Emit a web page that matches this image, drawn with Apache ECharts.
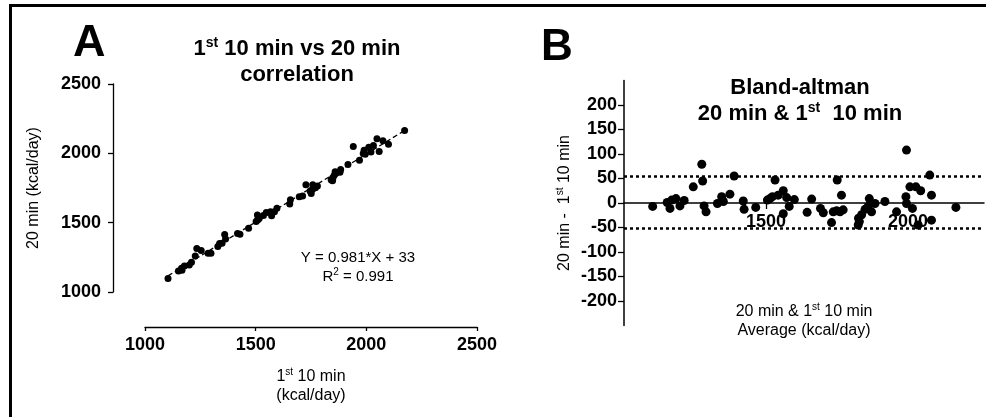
<!DOCTYPE html>
<html><head><meta charset="utf-8">
<script src="https://cdn.jsdelivr.net/npm/echarts@6/dist/echarts.min.js"></script>
<style>html,body{margin:0;padding:0;background:#fff}#c{width:986px;height:417px}</style>
</head><body><div id="c"></div><script>
// Panel A: 1st 10 min vs 20 min (kcal/day)
const ticksA = [1000, 1500, 2000, 2500];
const min10 = [1104,1151,1167,1165,1178,1200,1210,1227,1234,1254,1285,1298,1329,1337,1348,1364,1360,1418,1429,1468,1502,1509,1516,1508,1535,1548,1572,1567,1585,1596,1654,1657,1697,1712,1751,1746,1757,1770,1779,1727,1758,1848,1841,1847,1849,1855,1863,1859,1881,1884,1917,1969,1941,1986,1995,2021,1990,2011,2032,2048,2075,2058,2100,2173];
const min20 = [1097,1152,1156,1171,1188,1194,1214,1260,1314,1300,1279,1280,1328,1350,1352,1382,1415,1422,1416,1459,1508,1519,1530,1556,1551,1573,1550,1578,1578,1604,1635,1665,1686,1692,1711,1728,1741,1752,1765,1774,1774,1810,1810,1802,1825,1842,1856,1868,1863,1883,1920,1951,2049,1999,1994,2010,2023,2044,2057,2105,2091,2013,2065,2164];
const fitSlope = 0.981;
const fitIntercept = 33;
const fitR2 = 0.991;

// Panel B: Bland-Altman
const baAverage = [1101,1152,1162,1168,1183,1197,1212,1244,1274,1277,1282,1289,1329,1344,1350,1373,1388,1420,1423,1464,1505,1514,1523,1532,1543,1561,1561,1573,1582,1600,1645,1661,1692,1702,1731,1737,1749,1761,1772,1751,1766,1829,1826,1825,1837,1849,1860,1864,1872,1884,1919,1960,1995,1993,1995,2016,2007,2028,2045,2077,2083,2036,2083,2169];
const baDifference = [-7,1,-11,6,9,-6,5,33,79,45,-6,-18,-1,13,3,18,55,4,-13,-9,6,9,13,47,16,25,-22,11,-7,7,-19,8,-11,-20,-40,-18,-16,-18,-14,47,16,-38,-31,-45,-24,-13,-7,9,-18,-1,3,-18,108,13,-1,-11,33,33,25,57,16,-45,-35,-9];
const baLimits = [54, -52];
const ticksBY = [-200,-150,-100,-50,0,50,100,150,200];
const ticksBX = [1500, 2000];

const FF = 'Liberation Sans, Arial, Helvetica, sans-serif';
const chart = echarts.init(document.getElementById('c'), null, {renderer: 'canvas'});

const xMinFit = Math.min(...min10), xMaxFit = Math.max(...min10);
const fitLine = [[xMinFit, fitSlope * xMinFit + fitIntercept], [xMaxFit, fitSlope * xMaxFit + fitIntercept]];

const plain = v => String(v);
const tickLabelStyle = {color: '#000', fontFamily: FF, fontWeight: 'bold', fontSize: 18, formatter: plain};
const nameRich = {
  n: {fontFamily: FF, fontSize: 16, color: '#000', lineHeight: 19},
  s: {fontFamily: FF, fontSize: 10, color: '#000', verticalAlign: 'top', lineHeight: 19}
};
const titleRich = {
  b: {fontFamily: FF, fontSize: 22, fontWeight: 'bold', color: '#000', lineHeight: 26},
  s: {fontFamily: FF, fontSize: 14, fontWeight: 'bold', color: '#000', verticalAlign: 'top', lineHeight: 26}
};

// grid B geometry: zero line sits at 203px
const gridBTop = 80.5, gridBHeight = 245;
const zeroOffset = -(gridBHeight / 2);

const option = {
  animation: false,
  backgroundColor: '#fff',
  title: [
    {text: 'A', left: 68, top: 16, textStyle: {fontFamily: FF, fontSize: 45, fontWeight: 'bold', color: '#000'}},
    {text: 'B', left: 536, top: 21, textStyle: {fontFamily: FF, fontSize: 44, fontWeight: 'bold', color: '#000'}},
    {text: '{b|1}{s|st}{b| 10 min vs 20 min}\n{b|correlation}', left: 292, top: 31, textAlign: 'center',
      textStyle: {rich: titleRich, align: 'center'}},
    {text: '{b|Bland-altman}\n{b|20 min & 1}{s|st}{b|  10 min}', left: 795, top: 70, textAlign: 'center',
      textStyle: {rich: titleRich, align: 'center'}},
    {text: 'Y = ' + fitSlope + '*X + ' + fitIntercept + '\n{n|R}{s|2}{n| = ' + fitR2 + '}', left: 353, top: 243, textAlign: 'center',
      textStyle: {fontFamily: FF, fontSize: 15, color: '#000', lineHeight: 19, fontWeight: 'normal', align: 'center',
        rich: {n: {fontFamily: FF, fontSize: 15, color: '#000', lineHeight: 19}, s: {fontFamily: FF, fontSize: 10, color: '#000', verticalAlign: 'top', lineHeight: 19}}}}
  ],
  graphic: [
    {type: 'line', shape: {x1: 9, y1: 5.5, x2: 986, y2: 5.5}, style: {stroke: '#000', lineWidth: 3}},
    {type: 'line', shape: {x1: 10.5, y1: 4, x2: 10.5, y2: 417}, style: {stroke: '#000', lineWidth: 3}}
  ],
  grid: [
    {left: 145, top: 84, width: 332, height: 208, outerBoundsMode: 'none', containLabel: false},
    {left: 624, top: gridBTop, width: 360, height: gridBHeight, outerBoundsMode: 'none', containLabel: false}
  ],
  xAxis: [
    {gridIndex: 0, type: 'value', min: 1000, max: 2500, interval: 500, offset: 35,
      splitLine: {show: false},
      axisLine: {show: true, onZero: false, lineStyle: {color: '#000', width: 1.3}},
      axisTick: {show: true, length: 4, lineStyle: {color: '#000', width: 1.3}},
      axisLabel: Object.assign({margin: 9}, tickLabelStyle),
      name: '{n|1}{s|st}{n| 10 min}\n{n|(kcal/day)}', nameLocation: 'middle', nameGap: 40,
      nameTextStyle: {rich: nameRich, align: 'center'}},
    {gridIndex: 1, type: 'value', min: 1000, max: 2268, offset: zeroOffset,
      splitLine: {show: false},
      axisLine: {show: true, onZero: false, lineStyle: {color: '#000', width: 1.5}},
      axisTick: {show: true, length: 6, customValues: ticksBX, lineStyle: {color: '#000', width: 1.3}},
      axisLabel: Object.assign({margin: 10, customValues: ticksBX}, tickLabelStyle),
      name: '{n|20 min & 1}{s|st}{n| 10 min}\n{n|Average (kcal/day)}', nameLocation: 'middle', nameGap: 99,
      nameTextStyle: {rich: nameRich, align: 'center'}}
  ],
  yAxis: [
    {gridIndex: 0, type: 'value', min: 1000, max: 2500, interval: 500, offset: 32,
      splitLine: {show: false},
      axisLine: {show: true, onZero: false, lineStyle: {color: '#000', width: 1.3}},
      axisTick: {show: true, length: 5, lineStyle: {color: '#000', width: 1.3}},
      axisLabel: Object.assign({margin: 12}, tickLabelStyle),
      name: '{n|20 min (kcal/day)}', nameLocation: 'middle', nameGap: 70,
      nameTextStyle: {rich: nameRich}},
    {gridIndex: 1, type: 'value', min: -250, max: 250, interval: 50,
      splitLine: {show: false},
      axisLine: {show: true, onZero: false, lineStyle: {color: '#000', width: 1.5}},
      axisTick: {show: true, length: 6, customValues: ticksBY, lineStyle: {color: '#000', width: 1.3}},
      axisLabel: Object.assign({margin: 7, customValues: ticksBY}, tickLabelStyle),
      name: '{n|20 min -  1}{s|st}{n| 10 min}', nameLocation: 'middle', nameGap: 50,
      nameTextStyle: {rich: nameRich}}
  ],
  series: [
    {type: 'line', xAxisIndex: 0, yAxisIndex: 0, data: fitLine, symbol: 'none',
      lineStyle: {color: '#000', width: 1.3, type: [5, 3]}, z: 1},
    {type: 'scatter', xAxisIndex: 0, yAxisIndex: 0, data: min10.map((v, i) => [v, min20[i]]),
      symbol: 'circle', symbolSize: 7, itemStyle: {color: '#000', opacity: 1}, z: 2},
    {type: 'scatter', xAxisIndex: 1, yAxisIndex: 1, data: baAverage.map((v, i) => [v, baDifference[i]]),
      symbol: 'circle', symbolSize: 9, itemStyle: {color: '#000', opacity: 1}, z: 3,
      markLine: {silent: true, symbol: 'none', label: {show: false},
        lineStyle: {color: '#000', width: 2.5, type: [3, 3]},
        data: baLimits.map(v => ({yAxis: v}))}}
  ]
};
chart.setOption(option);
</script></body></html>
